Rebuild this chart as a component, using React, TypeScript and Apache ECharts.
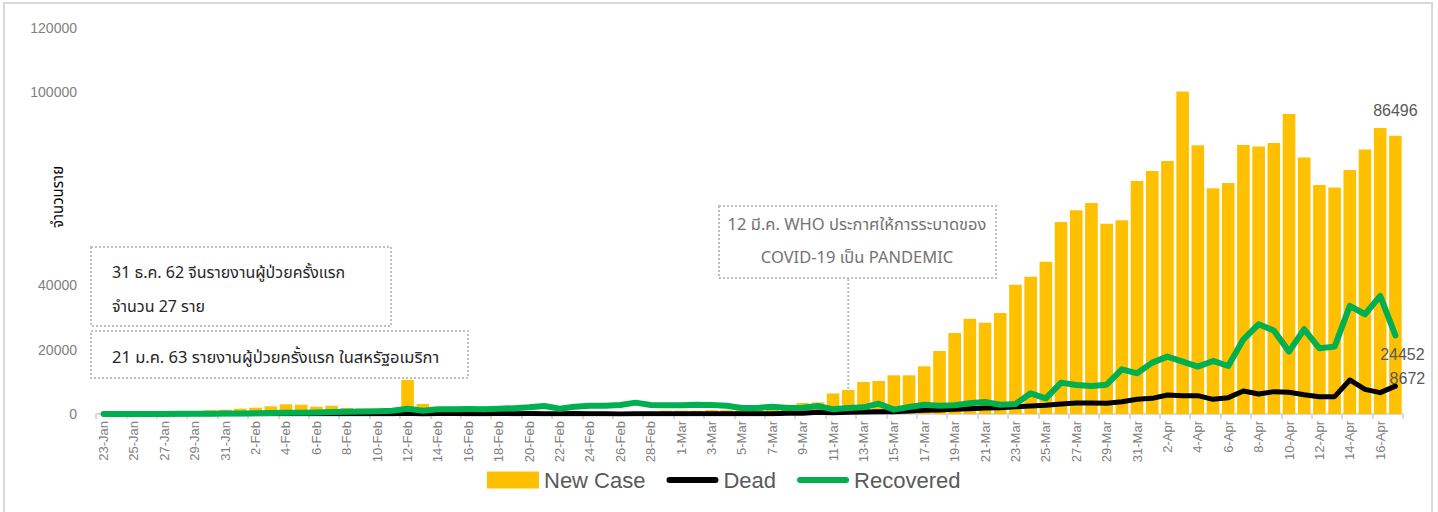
import React, { useEffect, useRef } from "react";
import * as echarts from "echarts";

const dates = [
  "23-Jan", "24-Jan", "25-Jan", "26-Jan", "27-Jan", "28-Jan", "29-Jan", "30-Jan", "31-Jan",
  "1-Feb", "2-Feb", "3-Feb", "4-Feb", "5-Feb", "6-Feb", "7-Feb", "8-Feb", "9-Feb", "10-Feb",
  "11-Feb", "12-Feb", "13-Feb", "14-Feb", "15-Feb", "16-Feb", "17-Feb", "18-Feb", "19-Feb", "20-Feb",
  "21-Feb", "22-Feb", "23-Feb", "24-Feb", "25-Feb", "26-Feb", "27-Feb", "28-Feb", "29-Feb",
  "1-Mar", "2-Mar", "3-Mar", "4-Mar", "5-Mar", "6-Mar", "7-Mar", "8-Mar", "9-Mar", "10-Mar",
  "11-Mar", "12-Mar", "13-Mar", "14-Mar", "15-Mar", "16-Mar", "17-Mar", "18-Mar", "19-Mar", "20-Mar",
  "21-Mar", "22-Mar", "23-Mar", "24-Mar", "25-Mar", "26-Mar", "27-Mar", "28-Mar", "29-Mar", "30-Mar",
  "31-Mar", "1-Apr", "2-Apr", "3-Apr", "4-Apr", "5-Apr", "6-Apr", "7-Apr", "8-Apr", "9-Apr",
  "10-Apr", "11-Apr", "12-Apr", "13-Apr", "14-Apr", "15-Apr", "16-Apr", "17-Apr",
];

const newCase = [
  100, 200, 300, 500, 930, 620, 930, 1150, 1340,
  1650, 1960, 2390, 3010, 2900, 2270, 2580, 1870, 1650, 1560,
  400, 10600, 3110, 500, 400, 400, 350, 300, 300, 300,
  250, 250, 300, 350, 400, 450, 500, 620, 1030,
  1030, 1030, 1240, 1150, 2200, 2800, 3100, 2900, 3420, 3600,
  6400, 7460, 9950, 10260, 12030, 12030, 14830, 19590, 25190, 29640,
  28400, 31410, 40220, 42700, 47370, 59710, 63350, 65620, 59180, 60240,
  72460, 75570, 78680, 100240, 83560, 70190, 71840, 83660, 83130, 84280,
  93300, 79710, 71220, 70380, 75880, 82200, 88950, 86496,
];

const dead = [
  10, 15, 15, 25, 25, 25, 40, 40, 45,
  45, 60, 65, 65, 75, 75, 85, 90, 95, 110,
  100, 250, 15, 145, 140, 105, 100, 135, 115, 120,
  110, 100, 150, 70, 50, 30, 45, 40, 60,
  70, 75, 85, 80, 100, 105, 110, 230, 210, 520,
  400, 520, 620, 730, 730, 930, 1140, 1240, 1450, 1660,
  1870, 1970, 2280, 2490, 2700, 3110, 3420, 3420, 3320, 3800,
  4560, 4870, 5910, 5700, 5700, 4560, 5080, 7160, 6220, 6950,
  6740, 6010, 5390, 5390, 10580, 7670, 6640, 8672,
];

const recovered = [
  0, 0, 10, 20, 30, 50, 60, 90, 120,
  150, 200, 280, 350, 400, 500, 600, 700, 750, 830,
  1000, 1660, 1040, 1500, 1500, 1550, 1500, 1600, 1800, 2070,
  2490, 1660, 2280, 2590, 2590, 2800, 3530, 2800, 2700,
  2700, 2900, 2800, 2590, 1870, 1870, 2280, 1870, 1970, 2490,
  1450, 1870, 2070, 3210, 1350, 2180, 2900, 2590, 2700, 3320,
  3730, 2900, 3110, 6430, 4870, 9750, 9020, 8710, 9100, 13900,
  12650, 15970, 17840, 16280, 14730, 16490, 14930, 23230, 27900, 25930,
  19390, 26340, 20430, 20950, 33600, 31010, 36710, 24452,
];

const hiddenYLabels = [60000, 80000];
const annotationDate = "12-Mar";
const note1 = ["31 ธ.ค. 62 จีนรายงานผู้ป่วยครั้งแรก", "จำนวน 27 ราย"];
const note2 = "21 ม.ค. 63 รายงานผู้ป่วยครั้งแรก ในสหรัฐอเมริกา";
const note3 = ["12 มี.ค. WHO ประกาศให้การระบาดของ", "COVID-19 เป็น PANDEMIC"];
const yTitle = "จำนวนราย";

const lineIcon = "path://M3,0 L49,0 A3,3 0 0 1 49,6 L3,6 A3,3 0 0 1 3,0 Z";

export default function App() {
  const ref = useRef<HTMLDivElement>(null);
  useEffect(() => {
    const chart = echarts.init(ref.current!, null, { renderer: "svg" });
    const latin = "'Liberation Sans', Arial, sans-serif";
    const thai = "'Noto Sans Thai', 'Leelawadee UI', Tahoma, 'Noto Sans', sans-serif";
    chart.setOption({
      animation: false,
      grid: { left: 96, right: 35, top: 28, bottom: 98 },
      xAxis: {
        type: "category",
        data: dates,
        boundaryGap: true,
        axisLine: { lineStyle: { color: "#d9d9d9", width: 2 } },
        axisTick: { show: true, interval: 1, length: 5, lineStyle: { color: "#d9d9d9", width: 2 } },
        axisLabel: { interval: 1, rotate: 90, color: "#808080", fontSize: 13, fontFamily: latin, margin: 7 },
      },
      yAxis: {
        type: "value",
        min: 0,
        max: 120000,
        interval: 20000,
        axisLine: { show: false },
        axisTick: { show: false },
        splitLine: { show: false },
        axisLabel: {
          color: "#808080",
          fontSize: 14,
          fontFamily: latin,
          margin: 19,
          formatter: (v: number) => (hiddenYLabels.includes(v) ? "" : String(v)),
        },
      },
      legend: {
        left: 487,
        top: 469,
        padding: 0,
        itemWidth: 52,
        itemHeight: 17,
        itemGap: 21,
        symbolKeepAspect: true,
        textStyle: { color: "#595959", fontSize: 22, fontFamily: latin },
        data: [
          { name: "New Case", icon: "rect" },
          { name: "Dead", icon: lineIcon },
          { name: "Recovered", icon: lineIcon },
        ],
      },
      series: [
        {
          name: "New Case",
          type: "bar",
          data: newCase,
          barCategoryGap: "17%",
          itemStyle: { color: "#FFC000" },
        },
        {
          name: "Dead",
          type: "line",
          data: dead,
          symbol: "none",
          itemStyle: { color: "#000000" },
          lineStyle: { color: "#000000", width: 5, join: "round", cap: "round" },
        },
        {
          name: "Recovered",
          type: "line",
          data: recovered,
          symbol: "none",
          itemStyle: { color: "#00B050" },
          lineStyle: { color: "#00B050", width: 6, join: "round", cap: "round" },
        },
      ],
    });

    const last = dates.length - 1;
    const pb = chart.convertToPixel({ seriesIndex: 0 }, [last, newCase[last]]) as number[];
    const pg = chart.convertToPixel({ seriesIndex: 2 }, [last, recovered[last]]) as number[];
    const pd = chart.convertToPixel({ seriesIndex: 1 }, [last, dead[last]]) as number[];
    const ai = dates.indexOf(annotationDate);
    const pa = chart.convertToPixel({ seriesIndex: 0 }, [ai, newCase[ai]]) as number[];

    const dash = { stroke: "#bfbfbf", lineWidth: 2, lineDash: [2, 2], fill: "none" };
    const labelStyle = (text: string, x: number, y: number) => ({
      type: "text",
      x,
      y,
      z: 100,
      style: { text, fill: "#595959", font: `16px ${latin}`, textAlign: "center", textVerticalAlign: "middle" },
    });

    chart.setOption({
      graphic: [
        { type: "rect", shape: { x: 4, y: 3, width: 1428, height: 530 }, style: { stroke: "#d9d9d9", lineWidth: 2, fill: "none" }, silent: true },
        { type: "rect", shape: { x: 91, y: 247, width: 300, height: 79 }, style: dash },
        { type: "text", x: 112, y: 273, style: { text: note1[0], fill: "#262626", font: `16px ${thai}`, textVerticalAlign: "middle" } },
        { type: "text", x: 112, y: 307, style: { text: note1[1], fill: "#262626", font: `16px ${thai}`, textVerticalAlign: "middle" } },
        { type: "rect", shape: { x: 91, y: 331, width: 377, height: 47 }, style: dash },
        { type: "text", x: 112, y: 357, style: { text: note2, fill: "#262626", font: `16.5px ${thai}`, textVerticalAlign: "middle" } },
        { type: "rect", shape: { x: 719, y: 206, width: 277, height: 72 }, style: dash },
        { type: "text", x: 857, y: 224, style: { text: note3[0], fill: "#767171", font: `16.5px ${thai}`, textAlign: "center", textVerticalAlign: "middle" } },
        { type: "text", x: 857, y: 257, style: { text: note3[1], fill: "#767171", font: `16.5px ${thai}`, textAlign: "center", textVerticalAlign: "middle" } },
        { type: "line", shape: { x1: pa[0], y1: 279, x2: pa[0], y2: pa[1] }, style: { stroke: "#bfbfbf", lineWidth: 2, lineDash: [2, 2] }, z: -1 },
        { type: "text", x: 58, y: 197, rotation: Math.PI / 2, style: { text: yTitle, fill: "#000000", font: `15px ${thai}`, textAlign: "center", textVerticalAlign: "middle" } },
        labelStyle(String(newCase[last]), pb[0], pb[1] - 25),
        labelStyle(String(recovered[last]), pg[0] + 7, pg[1] + 19),
        labelStyle(String(dead[last]), pd[0] + 12, pd[1] - 8),
      ],
    });
    return () => chart.dispose();
  }, []);
  return <div ref={ref} style={{ position: "fixed", left: 0, top: 0, width: 1438, height: 512, background: "#fff" }} />;
}
